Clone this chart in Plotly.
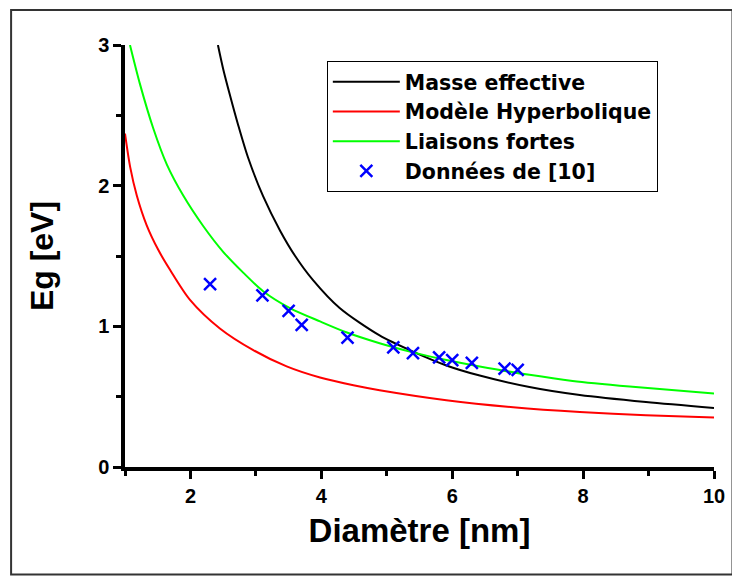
import plotly.graph_objects as go

# Masse effective (black)
me_x = [2.42, 2.50, 2.60, 2.73, 2.88, 3.11, 3.37, 3.60, 3.87, 4.28, 4.89, 5.40, 5.91, 6.42, 7.18, 7.95, 8.96, 10.0]
me_y = [3.00, 2.83, 2.65, 2.43, 2.20, 1.925, 1.68, 1.50, 1.33, 1.13, 0.935, 0.820, 0.722, 0.650, 0.568, 0.512, 0.462, 0.420]

# Modèle Hyperbolique (red)
mh_x = [1.0, 1.08, 1.18, 1.33, 1.51, 1.69, 1.99, 2.45, 2.96, 3.47, 3.98, 4.49, 4.89, 5.91, 6.93, 7.95, 8.96, 10.0]
mh_y = [2.37, 2.13, 1.93, 1.72, 1.542, 1.40, 1.19, 0.985, 0.831, 0.715, 0.636, 0.581, 0.546, 0.475, 0.425, 0.391, 0.368, 0.352]

# Liaisons fortes (green)
lf_x = [1.076, 1.23, 1.43, 1.64, 1.89, 2.20, 2.50, 2.81, 3.11, 3.52, 3.98, 4.38, 4.89, 5.40, 5.91, 6.42, 7.18, 7.84, 8.71, 10.0]
lf_y = [3.00, 2.72, 2.41, 2.15, 1.93, 1.71, 1.53, 1.38, 1.25, 1.13, 1.035, 0.958, 0.880, 0.815, 0.760, 0.715, 0.655, 0.612, 0.572, 0.522]

# Données de [10] (blue crosses)
d_x = [2.3, 3.1, 3.5, 3.7, 4.4, 5.1, 5.4, 5.8, 6.0, 6.3, 6.8, 7.0]
d_y = [1.30, 1.22, 1.11, 1.01, 0.92, 0.85, 0.81, 0.78, 0.76, 0.74, 0.70, 0.69]

x_ticks = [2, 4, 6, 8, 10]
y_ticks = [0, 1, 2, 3]

FONT = "Arial, Liberation Sans, sans-serif"
LEG_FONT = "DejaVu Sans, Arial, sans-serif"

fig = go.Figure()
fig.add_trace(go.Scatter(x=me_x, y=me_y, mode="lines", name="Masse effective",
                         line=dict(color="#000000", width=2, shape="spline", smoothing=0.8)))
fig.add_trace(go.Scatter(x=mh_x, y=mh_y, mode="lines", name="Modèle Hyperbolique",
                         line=dict(color="#ff0000", width=2, shape="spline", smoothing=0.8)))
fig.add_trace(go.Scatter(x=lf_x, y=lf_y, mode="lines", name="Liaisons fortes",
                         line=dict(color="#00ff00", width=2, shape="spline", smoothing=0.8)))
fig.add_trace(go.Scatter(x=d_x, y=d_y, mode="markers", name="Données de [10]",
                         marker=dict(symbol="x-thin", size=12, color="#0000ff",
                                     line=dict(color="#0000ff", width=2.5))))

# page is offset by the 8px body margin; coordinates below are in figure px
W, H = 732, 568
L, R, T, B = 117, 25.5, 37, 109.3
pw = W - L - R
ph = H - T - B

def px2paper_x(px):
    return (px - L) / pw

def px2paper_y(py):
    return (H - B - py) / ph

fig.update_layout(
    width=W, height=H,
    margin=dict(l=L, r=R, t=T, b=B),
    paper_bgcolor="white", plot_bgcolor="white",
    font=dict(family=FONT, color="black", weight="bold"),
    showlegend=True,
    legend=dict(x=px2paper_x(319), y=px2paper_y(53), xanchor="left", yanchor="top",
                bordercolor="black", borderwidth=1, bgcolor="white",
                itemwidth=67,
                font=dict(size=20.5, family=LEG_FONT, weight="bold", color="black"),
                tracegroupgap=0),
    xaxis=dict(range=[1, 10], tickvals=x_ticks, ticks="outside", ticklen=8, tickwidth=3,
               tickcolor="black", showline=True, linewidth=3.5, linecolor="black",
               showgrid=False, zeroline=False,
               tickfont=dict(size=20, family=FONT, weight="bold"),
               minor=dict(dtick=1, tick0=1, ticks="outside", ticklen=5, tickwidth=3, tickcolor="black", showgrid=False),
               title=dict(text="Diamètre [nm]", font=dict(size=33, family=FONT, weight="bold"), standoff=14)),
    yaxis=dict(range=[0, 3], tickvals=y_ticks, ticks="outside", ticklen=8, tickwidth=3,
               tickcolor="black", showline=True, linewidth=3.5, linecolor="black",
               showgrid=False, zeroline=False,
               tickfont=dict(size=20, family=FONT, weight="bold"),
               minor=dict(dtick=0.5, tick0=0, ticks="outside", ticklen=5, tickwidth=3, tickcolor="black", showgrid=False),
               title=dict(text="Eg [eV]", font=dict(size=32, family=FONT, weight="bold"), standoff=36)),
    shapes=[dict(type="rect", xref="paper", yref="paper",
                 x0=px2paper_x(3), x1=px2paper_x(725), y0=px2paper_y(566), y1=px2paper_y(2),
                 line=dict(color="#333333", width=2), fillcolor="rgba(0,0,0,0)", layer="below")],
)

fig.write_html("out.html")
